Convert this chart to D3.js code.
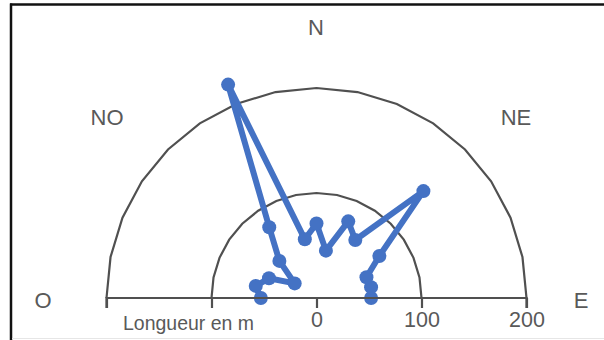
<!DOCTYPE html>
<html><head><meta charset="utf-8">
<script src="https://cdn.jsdelivr.net/npm/d3@7"></script>
<style>
html,body{margin:0;padding:0;background:#fff;}
svg{display:block;}
text{font-family:"Liberation Sans",Arial,sans-serif;fill:#595959;}
</style></head>
<body>
<svg id="chart" width="604" height="340"></svg>
<script>
// Directions (degrees from East, counter-clockwise) and lengths in metres
const angles = [0, 11.25, 22.5, 33.75, 45, 56.25, 67.5, 78.75, 90, 101.25, 112.5, 123.75, 135, 146.25, 157.5, 168.75, 180];
const lengths = [52, 53, 51.5, 72, 144, 66.5, 79, 46, 71, 57, 220, 81, 50, 25, 49, 59, 53];
const rings = [100, 200];
const tickValues = [-200, -100, 0, 100, 200];
const tickLabels = ["", "", "0", "100", "200"];
const compass = [
  {label: "N", x: 316, y: 27},
  {label: "NO", x: 107, y: 117},
  {label: "NE", x: 516, y: 117},
  {label: "O", x: 43, y: 300},
  {label: "E", x: 581, y: 300}
];
const axisTitle = "Longueur en m";

const svg = d3.select("#chart");
const cx = 316.5, cy = 298;
const r = d3.scaleLinear().domain([0, 200]).range([0, 210]);
const x = d3.scaleLinear().domain([-200, 200]).range([cx - 210, cx + 210]);
const toRad = d => (90 - d) * Math.PI / 180; // lineRadial: 0 = up, clockwise

// border
svg.append("line").attr("x1", 10).attr("x2", 604).attr("y1", 4.5).attr("y2", 4.5)
  .attr("stroke", "#111").attr("stroke-width", 2.5);
svg.append("line").attr("x1", 11).attr("x2", 11).attr("y1", 3.5).attr("y2", 340)
  .attr("stroke", "#111").attr("stroke-width", 2.5);
svg.append("line").attr("x1", 12).attr("x2", 604).attr("y1", 338.5).attr("y2", 338.5)
  .attr("stroke", "#e6e6e6").attr("stroke-width", 1);

const g = svg.append("g").attr("transform", `translate(${cx},${cy})`);

// rings (polygonal, as in the radar grid)
rings.forEach(v => {
  g.append("path")
    .attr("d", d3.lineRadial().angle(a => toRad(a)).radius(() => r(v))(angles))
    .attr("fill", "none").attr("stroke", "#505050").attr("stroke-width", 2.2);
});

// axis
const axis = d3.axisBottom(x).tickValues(tickValues)
  .tickFormat((d, i) => tickLabels[i]).tickSize(10).tickPadding(4);
const ax = svg.append("g").attr("transform", `translate(0,${cy})`).call(axis);
ax.select(".domain").attr("stroke", "#505050").attr("stroke-width", 2.2)
  .attr("d", `M${x(-200)},10V0H${x(200)}V10`);
ax.selectAll(".tick line").attr("stroke", "#505050").attr("stroke-width", 2.2);
ax.selectAll(".tick text").attr("font-size", 21.5).attr("fill", "#595959")
  .style("font-family", '"Liberation Sans",Arial,sans-serif');

svg.append("text").attr("x", 188.5).attr("y", 329.5).attr("text-anchor", "middle")
  .attr("font-size", 21).attr("textLength", 131).attr("lengthAdjust", "spacingAndGlyphs")
  .text(axisTitle);

// compass labels
svg.selectAll("text.compass").data(compass).enter().append("text")
  .attr("class", "compass").attr("x", d => d.x).attr("y", d => d.y)
  .attr("text-anchor", "middle").attr("dominant-baseline", "central")
  .attr("font-size", 22).text(d => d.label);

// series
const pts = angles.map((a, i) => ({a, v: lengths[i]}));
g.append("path")
  .attr("d", d3.lineRadial().angle(d => toRad(d.a)).radius(d => r(d.v))(pts))
  .attr("fill", "none").attr("stroke", "#4472C4").attr("stroke-width", 6)
  .attr("stroke-linejoin", "round");
g.selectAll("circle.pt").data(pts).enter().append("circle")
  .attr("class", "pt")
  .attr("cx", d => r(d.v) * Math.cos(d.a * Math.PI / 180))
  .attr("cy", d => -r(d.v) * Math.sin(d.a * Math.PI / 180))
  .attr("r", 7).attr("fill", "#4472C4");
</script>
</body></html>
